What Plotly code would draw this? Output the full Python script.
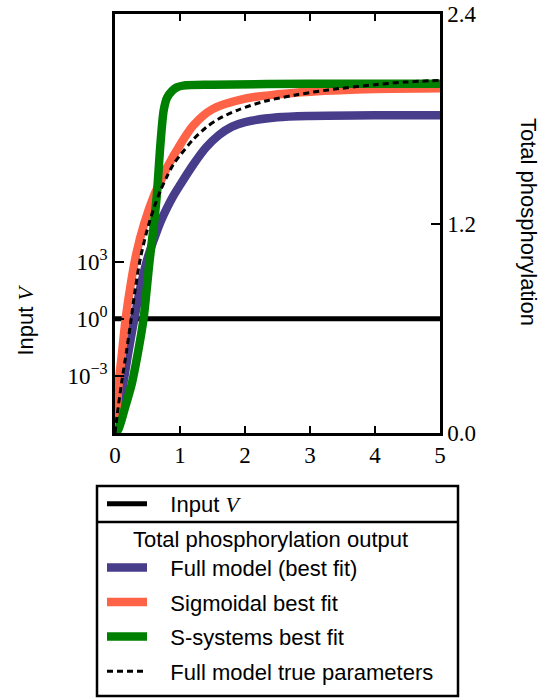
import plotly.graph_objects as go

# ---------------- data ----------------
t_input = [0, 5]
v_input = [1, 1]

t_full = [0, 0.1, 0.2, 0.3, 0.4, 0.5, 0.6, 0.7, 0.8, 0.9, 1.0, 1.2, 1.4, 1.6, 1.8, 2.0, 2.5, 3.0, 4.0, 5.0]
p_full = [0, 0.22, 0.45, 0.66, 0.85, 1.0, 1.11, 1.21, 1.29, 1.36, 1.42, 1.535, 1.635, 1.707, 1.755, 1.781, 1.808, 1.816, 1.82, 1.82]

t_sig = [0, 0.03, 0.06, 0.1, 0.165, 0.25, 0.33, 0.45, 0.6, 0.7, 0.8, 1.0, 1.2, 1.5, 2.0, 2.5, 3.0, 4.0, 5.0]
p_sig = [0, 0.15, 0.3, 0.43, 0.657, 0.87, 1.03, 1.2, 1.36, 1.44, 1.52, 1.65, 1.76, 1.855, 1.915, 1.94, 1.955, 1.97, 1.974]

t_ssys = [0, 0.05, 0.15, 0.26, 0.36, 0.44, 0.53, 0.6, 0.645, 0.7, 0.75, 0.8, 0.88, 0.95, 1.05, 1.5, 3.0, 5.0]
p_ssys = [0, 0.02, 0.14, 0.285, 0.475, 0.657, 0.98, 1.2, 1.37, 1.66, 1.85, 1.92, 1.96, 1.98, 1.99, 1.995, 2.0, 2.0]

t_true = [0, 0.03, 0.1, 0.18, 0.25, 0.31, 0.39, 0.5, 0.6, 0.7, 0.8, 0.9, 1.0, 1.2, 1.4, 1.6, 1.89, 2.3, 2.76, 3.28, 4.0, 4.47, 5.0]
p_true = [0, 0.093, 0.285, 0.475, 0.657, 0.82, 1.0, 1.17, 1.29, 1.39, 1.47, 1.54, 1.59, 1.68, 1.75, 1.80, 1.85, 1.9, 1.935, 1.965, 1.995, 2.01, 2.02]

x_ticks = [0, 1, 2, 3, 4, 5]
v_tickvals = [1e-3, 1, 1e3]
v_ticktext = ["10<sup>\u22123</sup>", "10<sup>0</sup>", "10<sup>3</sup>"]
p_tickvals = [0, 1.2, 2.4]
p_ticktext = ["0.0", "1.2", "2.4"]

# ---------------- layout helpers ----------------
W, H = 547, 698
L, R, T, B = 115, 440, 14, 433


def px(xp):
    return (xp - L) / (R - L)


def py(yp):
    return (B - yp) / (B - T)


SERIF = "Liberation Serif, DejaVu Serif, serif"
SANS = "Liberation Sans, Arial, sans-serif"
FS = 22
TFS = 23
GAP = "\u00a0\u00a0\u00a0"

fig = go.Figure()

fig.add_trace(go.Scatter(x=t_input, y=v_input, mode="lines", yaxis="y",
                         line=dict(color="black", width=5),
                         name=GAP + "Input <span style='font-family:Liberation Serif'><i>V</i></span>",
                         legend="legend"))

curves = [
    (t_full, p_full, "#483D8B", "Full model (best fit)", None, 8.5),
    (t_sig, p_sig, "#FF6347", "Sigmoidal best fit", None, 8.5),
    (t_ssys, p_ssys, "#008000", "S-systems best fit", None, 8.5),
    (t_true, p_true, "black", "Full model true parameters", "6px,4px", 3),
]
for i, (tx, ty, col, nm, dash, w) in enumerate(curves):
    fig.add_trace(go.Scatter(x=tx, y=ty, mode="lines", yaxis="y2",
                             line=dict(color=col, width=w, dash=dash, shape="spline", smoothing=0.8),
                             name=GAP + nm, legend="legend2", legendgroup="g%d" % i))

axis_common = dict(showline=True, linecolor="black", linewidth=2.5, ticks="inside",
                   tickcolor="black", tickwidth=1.5, showgrid=False, zeroline=False,
                   tickfont=dict(family=SERIF, size=TFS, color="black"))

fig.update_layout(
    width=W, height=H,
    margin=dict(l=L, r=W - R, t=T, b=H - B, autoexpand=False),
    paper_bgcolor="white", plot_bgcolor="white",
    showlegend=True,
    xaxis=dict(range=[0, 5], tickvals=x_ticks, mirror="ticks", ticklen=7, **axis_common),
    yaxis=dict(type="log", range=[-6, 16], tickvals=v_tickvals, ticktext=v_ticktext,
               ticklen=9, **axis_common),
    yaxis2=dict(overlaying="y", side="right", range=[0, 2.4], tickvals=p_tickvals,
                ticktext=p_ticktext, ticklen=9, **axis_common),
    legend=dict(x=px(102), y=py(483), xanchor="left", yanchor="top", bgcolor="rgba(0,0,0,0)",
                borderwidth=0, itemwidth=40, font=dict(family=SANS, size=FS, color="black")),
    legend2=dict(x=px(102), y=py(518), xanchor="left", yanchor="top", bgcolor="rgba(0,0,0,0)",
                 borderwidth=0, itemwidth=40, tracegroupgap=3,
                 font=dict(family=SANS, size=FS, color="black"),
                 title=dict(text="Total phosphorylation output", side="top center",
                            font=dict(family=SANS, size=FS, color="black"))),
    shapes=[
        dict(type="rect", xref="paper", yref="paper", x0=px(97), x1=px(458), y0=py(696), y1=py(486),
             line=dict(color="black", width=2.5), fillcolor="rgba(0,0,0,0)"),
        dict(type="line", xref="paper", yref="paper", x0=px(97), x1=px(458), y0=py(522), y1=py(522),
             line=dict(color="black", width=2.5)),
    ],
    annotations=[
        dict(text="Input <span style='font-family:Liberation Serif'><i>V</i></span>",
             x=px(24.5), y=py(320), xref="paper", yref="paper", showarrow=False, textangle=-90,
             xanchor="center", yanchor="middle",
             font=dict(family=SANS, size=FS, color="black")),
        dict(text="Total phosphorylation", x=px(529), y=py(222), xref="paper", yref="paper",
             showarrow=False, textangle=90, xanchor="center", yanchor="middle",
             font=dict(family=SANS, size=FS, color="black")),
    ],
)

fig.write_html("out.html")
